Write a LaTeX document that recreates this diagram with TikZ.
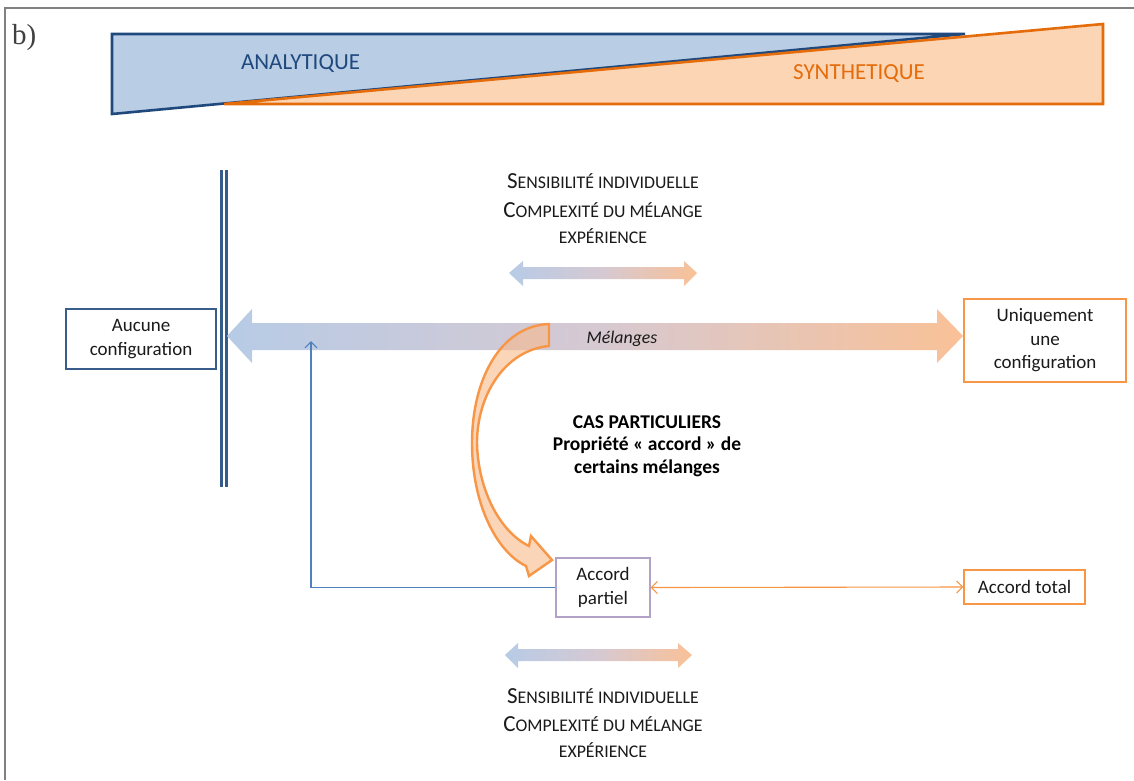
\documentclass[tikz,border=0pt]{standalone}
\usepackage{fontspec}
\setmainfont{Carlito}
\newfontfamily\seriffont{Liberation Serif}
\usetikzlibrary{arrows.meta}
\definecolor{dblue}{HTML}{1F497D}
\definecolor{lblue}{HTML}{B9CDE5}
\definecolor{dorange}{HTML}{E46C0A}
\definecolor{lorange}{HTML}{FCD5B5}
\definecolor{morange}{HTML}{F79646}
\definecolor{gblue}{HTML}{B7CBE6}
\definecolor{gorange}{HTML}{F9C197}
\definecolor{gmid}{HTML}{D6C9D2}
\definecolor{lav}{HTML}{B3A2C7}
\definecolor{bline}{HTML}{4F81BD}
\definecolor{bbox}{HTML}{385D8A}
\definecolor{txt}{HTML}{1A1A1A}
\definecolor{framegray}{HTML}{808080}
\definecolor{curvefill}{HTML}{F8B98A}
\newcommand\scbig[1]{{\fontsize{23}{30}\selectfont #1}}
\begin{document}
\begin{tikzpicture}[x=1pt,y=-1pt,
  box/.style={draw, line width=1.2pt, fill=white, align=center, inner sep=0pt, text=txt,
    font=\fontsize{19}{23.5}\selectfont},
  sctext/.style={anchor=base, text=txt, inner sep=0pt, font=\fontsize{17.8}{27}\selectfont},
  thinarrow/.style={line width=1.1pt, -{Straight Barb[length=6pt,width=12pt]}},
  gradarrow/.style={left color=gblue, right color=gorange, middle color=gmid, draw=none}
]
\useasboundingbox (0,0) rectangle (1134,780);
\fill[white] (0,0) rectangle (1134,780);
% frame
\draw[framegray, line width=1.5pt] (5,780) -- (5,8) -- (1134,8);
\node[anchor=base west, inner sep=0pt, text=black!75, font=\seriffont\fontsize{29}{32}\selectfont] (lbl) at (12,44) {b)};
% triangles
\filldraw[fill=lblue, draw=dblue, line width=2.6pt, line join=miter] (112,34) -- (965,34) -- (112,114) -- cycle;
\filldraw[fill=lorange, draw=dorange, line width=2.6pt, line join=miter] (224,104) -- (1103,24) -- (1103,104) -- cycle;
\node[text=dblue, font=\fontsize{23}{27}\selectfont, inner sep=0pt] (ana) at (300.5,64) {ANALYTIQUE};
\node[text=dorange, font=\fontsize{23}{27}\selectfont, inner sep=0pt] (syn) at (859,73.5) {SYNTHETIQUE};
% double vertical line
\draw[dblue!90!white, line width=3pt] (221,170) -- (221,487);
\draw[dblue!90!white, line width=3pt] (226.5,170) -- (226.5,487);
% big gradient arrow
\shade[gradarrow] (227,336) -- (252,309) -- (252,323) -- (937,323) -- (937,309) -- (963,336)
  -- (937,363) -- (937,350) -- (252,350) -- (252,363) -- cycle;
% small arrows
\shade[gradarrow] (509,273) -- (523,261) -- (523,267) -- (684,267) -- (684,261) -- (697,273)
  -- (684,286) -- (684,279) -- (523,279) -- (523,286) -- cycle;
\shade[gradarrow] (505,655) -- (518,643) -- (518,649) -- (678,649) -- (678,643) -- (692,655)
  -- (678,668) -- (678,661) -- (518,661) -- (518,668) -- cycle;
% curved arrow
\filldraw[fill=curvefill, fill opacity=0.6, draw=morange, line width=2.4pt, line join=miter]
  (549,324) .. controls (500,326) and (472,380) .. (472,443)
  .. controls (472,505) and (497,552) .. (526,566)
  -- (529,576) -- (552,560) -- (531,536) -- (529,546)
  .. controls (500,532) and (478,490) .. (477,443)
  .. controls (477,395) and (505,350) .. (549,346) -- cycle;
\node[anchor=base, inner sep=0pt, text=txt, font=\itshape\fontsize{17.8}{20}\selectfont] (mel) at (622,343) {Mélanges};
% boxes
\node[box, draw=bbox, minimum width=150pt, minimum height=60pt] (auc) at (141,339) {Aucune\\configuration};
\node[box, draw=morange, minimum width=162pt, minimum height=83pt] (uni) at (1045,340.5) {Uniquement\\une\\configuration};
\node[box, draw=lav, minimum width=94pt, minimum height=59pt] (ap) at (603,587.5) {Accord\\partiel};
\node[box, draw=morange, minimum width=121pt, minimum height=34pt] (at) at (1024.5,587) {Accord total};
% connectors
\coordinate (bt) at (311,341);
\draw[thinarrow, draw=bline] (ap.west) -| (bt);
\draw[line width=1.1pt, {Straight Barb[length=6pt,width=12pt]}-{Straight Barb[length=6pt,width=12pt]}, draw=morange] (ap.east) -- (at.west);
% texts
\node[sctext] (t1) at (603,188) {\scbig{S}ENSIBILITÉ INDIVIDUELLE};
\node[sctext] (t2) at (603,217) {\scbig{C}OMPLEXITÉ DU MÉLANGE};
\node[sctext] (t3) at (603,243) {EXPÉRIENCE};
\node[sctext] (b1) at (603,703) {\scbig{S}ENSIBILITÉ INDIVIDUELLE};
\node[sctext] (b2) at (603,731) {\scbig{C}OMPLEXITÉ DU MÉLANGE};
\node[sctext] (b3) at (603,757) {EXPÉRIENCE};
\node[anchor=base, inner sep=0pt, text=black, font=\bfseries\fontsize{19.5}{22}\selectfont] (c1) at (647,428) {CAS PARTICULIERS};
\node[anchor=base, inner sep=0pt, text=black, font=\bfseries\fontsize{19.5}{22}\selectfont] (c2) at (647,450) {Propriété « accord » de};
\node[anchor=base, inner sep=0pt, text=black, font=\bfseries\fontsize{19.5}{22}\selectfont] (c3) at (647,473) {certains mélanges};
\end{tikzpicture}
\end{document}
